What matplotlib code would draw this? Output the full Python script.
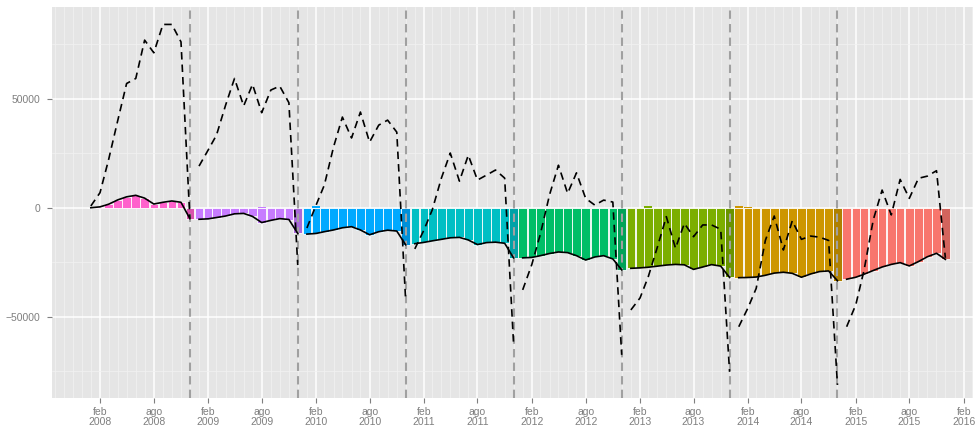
import matplotlib
matplotlib.use('Agg')
import matplotlib.pyplot as plt
import matplotlib.dates as mdates
import matplotlib.colors as mcolors
import pandas as pd
from datetime import datetime

plt.rcParams['font.family'] = ['Liberation Sans', 'DejaVu Sans']

years = [2008, 2009, 2010, 2011, 2012, 2013, 2014, 2015]
year_colors = ['#FF61CC', '#C77CFF', '#00A9FF', '#00BFC4',
               '#00BE67', '#7CAE00', '#CD9600', '#F8766D']

bal_2008 = [0, 400, 1600, 3600, 5000, 5700, 4400, 1700, 2500, 3100, 2500, -5000]
bal_2009 = [-5300, -5100, -4500, -3800, -2800, -2600, -4000, -6800, -5800, -5000, -5400, -11800]
bal_2010 = [-12100, -11800, -11000, -10200, -9200, -8700, -10200, -12400, -11000, -10300, -10700, -17000]
bal_2011 = [-16500, -15900, -15200, -14500, -13800, -13600, -14800, -16900, -16000, -15800, -16300, -23000]
bal_2012 = [-23000, -22800, -22000, -21000, -20300, -20600, -22000, -24000, -22600, -22000, -23500, -28500]
bal_2013 = [-27800, -27600, -27300, -26800, -26300, -26000, -26200, -28300, -27200, -26100, -26800, -32000]
bal_2014 = [-32100, -32000, -31800, -31000, -30000, -29600, -30100, -31900, -30400, -29300, -29000, -33500]
bal_2015 = [-32800, -31900, -30500, -28800, -27200, -26000, -25200, -26700, -24700, -22500, -20900, -23700]

pos_2009 = [0, 0, 0, 0, 0, 0, 0, 500, 0, 0, 0, 0]
pos_2010 = [0, 600, 0, 0, 0, 0, 0, 0, 0, 0, 0, 0]
pos_2013 = [0, 0, 800, 0, 0, 0, 0, 0, 0, 0, 0, 0]
pos_2014 = [600, 500, 0, 0, 0, 0, 0, 0, 0, 0, 0, 0]

dash_2008 = [800, 6900, 22000, 40000, 57000, 59300, 76900, 71100, 84100, 84100, 76100, -4700]
dash_2009 = [19100, 26500, 33300, 47100, 59300, 46700, 56600, 43600, 54000, 55800, 48200, -26300]
dash_2010 = [-9300, 1200, 10400, 27800, 41600, 32000, 43900, 30100, 37900, 40200, 34700, -42300]
dash_2011 = [-18900, -10200, -1000, 13600, 25100, 12200, 24100, 12700, 15000, 17300, 13600, -62000]
dash_2012 = [-37700, -26000, -12000, 6000, 19500, 6600, 16000, 4300, 1200, 3500, 2600, -67500]
dash_2013 = [-46900, -41400, -31600, -17900, -4100, -18600, -7200, -13300, -7900, -7900, -9900, -75300]
dash_2014 = [-54600, -46000, -37000, -15000, -3800, -19400, -6000, -14500, -13000, -13500, -15000, -81300]
dash_2015 = [-54600, -44500, -28600, -5600, 8100, -3300, 13000, 4300, 13500, 14500, 17000, -23000]

balances = [bal_2008, bal_2009, bal_2010, bal_2011, bal_2012, bal_2013, bal_2014, bal_2015]
positives = [[0]*12, pos_2009, pos_2010, [0]*12, [0]*12, pos_2013, pos_2014, [0]*12]
dashes = [dash_2008, dash_2009, dash_2010, dash_2011, dash_2012, dash_2013, dash_2014, dash_2015]

month_abbr = {2: 'feb', 8: 'ago'}

fig = plt.figure(figsize=(9.77, 4.33), dpi=100)
ax = fig.add_axes([52/977, 35/433, 921/977, 391/433])
ax.set_facecolor('#E5E5E5')
for s in ax.spines.values():
    s.set_visible(False)

for yr, col, bal, pos, dsh in zip(years, year_colors, balances, positives, dashes):
    dates = pd.date_range(f'{yr}-01-01', periods=12, freq='MS')
    xs = mdates.date2num(dates.to_pydatetime())
    rgb = mcolors.to_rgb(col)
    dark = tuple(c * 0.85 for c in rgb)
    cols = [col] * 11 + [dark]
    ax.bar(xs, bal, width=29, color=cols, edgecolor='white', linewidth=0.6, zorder=2)
    ax.bar(xs, pos, width=27, color=cols, linewidth=0, zorder=2)
    ax.plot(xs, dsh, color='black', lw=1.2, ls=(0, (4.5, 3)), zorder=5)
    ax.plot(xs, bal, color='black', lw=1.2, zorder=5)

for yr in years[:-1]:
    ax.axvline(mdates.date2num(datetime(yr, 12, 1)), color='#A0A0A0',
               lw=1.5, ls=(0, (4, 2.5)), zorder=4)

major_dates = []
major_labels = []
for yr in range(2008, 2017):
    for m in (2, 8):
        if yr == 2016 and m == 8:
            continue
        major_dates.append(mdates.date2num(datetime(yr, m, 1)))
        major_labels.append(f'{month_abbr[m]}\n{yr}')
ax.set_xticks(major_dates)
ax.set_xticklabels(major_labels, linespacing=1.05)
minor_dates = [mdates.date2num(d) for d in pd.date_range('2007-09-01', '2016-03-01', freq='MS').to_pydatetime()]
ax.set_xticks(minor_dates, minor=True)

ax.set_yticks([-50000, 0, 50000])
ax.set_yticklabels(['\u221250000', '0', '50000'])
ax.set_yticks([-75000, -25000, 25000, 75000], minor=True)

# limits set after ticks so they are not widened
x0 = mdates.date2num(datetime(2008, 2, 1))
ax.set_xlim(x0 - 162.4, x0 + 2953.5)
ax.set_ylim(-87300, 92100)

ax.grid(which='minor', color='#F2F2F2', lw=0.5, zorder=0)
ax.grid(which='major', color='white', lw=1.1, zorder=0)
ax.set_axisbelow(True)

ax.tick_params(which='major', length=3.5, width=0.8, color='#7F7F7F',
               labelcolor='#7F7F7F', labelsize=7.5)
ax.tick_params(axis='y', which='major', pad=5)
ax.tick_params(axis='x', which='major', pad=3)
ax.tick_params(which='minor', length=0)

fig.savefig('out.png', dpi=100)
